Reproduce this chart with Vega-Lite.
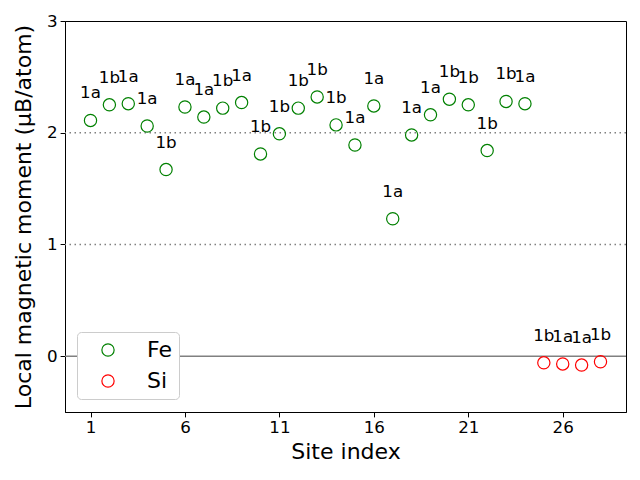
{
  "$schema": "https://vega.github.io/schema/vega-lite/v6.json",
  "width": 561,
  "height": 391,
  "autosize": "none",
  "padding": {"left": 65, "top": 21, "right": 14, "bottom": 68},
  "background": "white",
  "config": {
    "font": "DejaVu Sans",
    "view": {"stroke": "black", "strokeWidth": 1}
  },
  "datasets": {
    "sites": [
      {"site": 1, "moment": 2.11, "element": "Fe", "label": "1a"},
      {"site": 2, "moment": 2.25, "element": "Fe", "label": "1b"},
      {"site": 3, "moment": 2.26, "element": "Fe", "label": "1a"},
      {"site": 4, "moment": 2.06, "element": "Fe", "label": "1a"},
      {"site": 5, "moment": 1.67, "element": "Fe", "label": "1b"},
      {"site": 6, "moment": 2.23, "element": "Fe", "label": "1a"},
      {"site": 7, "moment": 2.14, "element": "Fe", "label": "1a"},
      {"site": 8, "moment": 2.22, "element": "Fe", "label": "1b"},
      {"site": 9, "moment": 2.27, "element": "Fe", "label": "1a"},
      {"site": 10, "moment": 1.81, "element": "Fe", "label": "1b"},
      {"site": 11, "moment": 1.99, "element": "Fe", "label": "1b"},
      {"site": 12, "moment": 2.22, "element": "Fe", "label": "1b"},
      {"site": 13, "moment": 2.32, "element": "Fe", "label": "1b"},
      {"site": 14, "moment": 2.07, "element": "Fe", "label": "1b"},
      {"site": 15, "moment": 1.89, "element": "Fe", "label": "1a"},
      {"site": 16, "moment": 2.24, "element": "Fe", "label": "1a"},
      {"site": 17, "moment": 1.23, "element": "Fe", "label": "1a"},
      {"site": 18, "moment": 1.98, "element": "Fe", "label": "1a"},
      {"site": 19, "moment": 2.16, "element": "Fe", "label": "1a"},
      {"site": 20, "moment": 2.30, "element": "Fe", "label": "1b"},
      {"site": 21, "moment": 2.25, "element": "Fe", "label": "1b"},
      {"site": 22, "moment": 1.84, "element": "Fe", "label": "1b"},
      {"site": 23, "moment": 2.28, "element": "Fe", "label": "1b"},
      {"site": 24, "moment": 2.26, "element": "Fe", "label": "1a"},
      {"site": 25, "moment": -0.06, "element": "Si", "label": "1b"},
      {"site": 26, "moment": -0.07, "element": "Si", "label": "1a"},
      {"site": 27, "moment": -0.08, "element": "Si", "label": "1a"},
      {"site": 28, "moment": -0.05, "element": "Si", "label": "1b"}
    ],
    "dotted": [{"y": 1}, {"y": 2}],
    "solid": [{"y": 0}]
  },
  "layer": [
    {
      "data": {"name": "dotted"},
      "mark": {"type": "rule", "color": "#808080", "strokeWidth": 1.5, "strokeDash": [1.5, 3.5]},
      "encoding": {
        "y": {"field": "y", "type": "quantitative", "scale": {"domain": [-0.5, 3], "nice": false, "zero": false}}
      }
    },
    {
      "data": {"name": "solid"},
      "mark": {"type": "rule", "color": "#808080", "strokeWidth": 1.5},
      "encoding": {
        "y": {"field": "y", "type": "quantitative"}
      }
    },
    {
      "data": {"name": "sites"},
      "mark": {"type": "point", "shape": "circle", "filled": false, "size": 150, "strokeWidth": 1.2, "opacity": 1},
      "encoding": {
        "x": {
          "field": "site", "type": "quantitative",
          "scale": {"domain": [-0.35, 29.35], "nice": false, "zero": false},
          "axis": {
            "values": [1, 6, 11, 16, 21, 26], "format": "d", "title": "Site index", "grid": false,
            "domainColor": "black", "tickColor": "black", "tickSize": 4.9, "labelPadding": 3,
            "labelFontSize": 16.7, "labelColor": "black", "titleFontSize": 22, "titleFontWeight": "normal",
            "titleColor": "black", "titlePadding": 5
          }
        },
        "y": {
          "field": "moment", "type": "quantitative",
          "scale": {"domain": [-0.5, 3], "nice": false, "zero": false},
          "axis": {
            "values": [0, 1, 2, 3], "format": "d", "title": "Local magnetic moment (μB/atom)", "grid": false,
            "domainColor": "black", "tickColor": "black", "tickSize": 4.9, "labelPadding": 3,
            "labelFontSize": 16.7, "labelColor": "black", "titleFontSize": 22, "titleFontWeight": "normal",
            "titleColor": "black", "titlePadding": 11
          }
        },
        "color": {
          "field": "element", "type": "nominal",
          "scale": {"domain": ["Fe", "Si"], "range": ["#008000", "#ff0000"]},
          "legend": {
            "title": null, "orient": "none", "legendX": 12, "legendY": 311,
            "padding": 7, "strokeColor": "#cccccc", "fillColor": "white", "cornerRadius": 4,
            "labelFontSize": 22, "labelColor": "black", "symbolSize": 150, "symbolStrokeWidth": 1.2,
            "symbolType": "circle", "symbolOffset": 13, "labelOffset": 28, "rowPadding": 9,
            "symbolFillColor": "transparent"
          }
        }
      }
    },
    {
      "data": {"name": "sites"},
      "mark": {"type": "text", "fontSize": 16.7, "color": "black", "align": "center", "baseline": "alphabetic", "dy": -22},
      "encoding": {
        "x": {"field": "site", "type": "quantitative"},
        "y": {"field": "moment", "type": "quantitative"},
        "text": {"field": "label", "type": "nominal"}
      }
    }
  ]
}
